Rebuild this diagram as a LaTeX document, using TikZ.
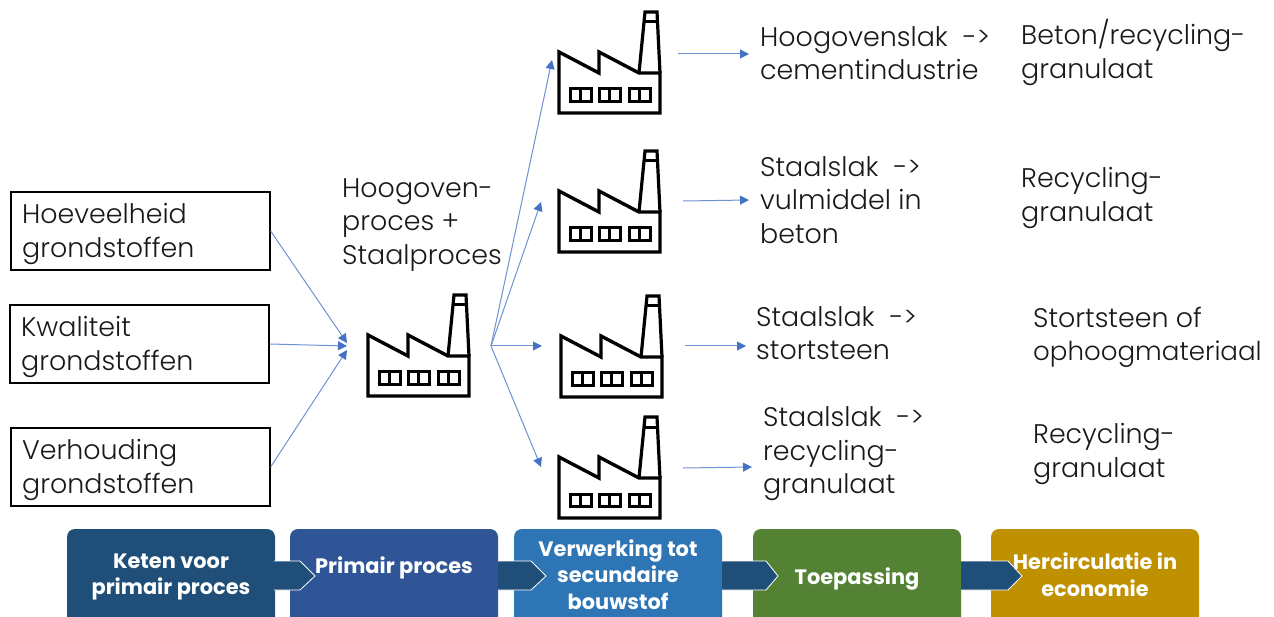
\documentclass[tikz,border=0pt]{standalone}
\usepackage{fontspec}
\setmainfont{Poppins}[UprightFont=* Light,BoldFont=* Bold]
\usetikzlibrary{arrows.meta}
\definecolor{flowblue}{HTML}{4472C4}
\definecolor{flowline}{HTML}{6F92D2}
\definecolor{chainA}{HTML}{1F4E79}
\definecolor{chainB}{HTML}{2F5597}
\definecolor{chainC}{HTML}{2E75B6}
\definecolor{chainD}{HTML}{548235}
\definecolor{chainE}{HTML}{BF9000}
\newcommand{\yields}{\kern15pt->}
\tikzset{
  inbox/.style={draw=black,line width=1.3pt,minimum width=259pt,minimum height=78pt,inner sep=0pt},
  lbl/.style={anchor=west,align=left,inner sep=0pt,font=\fontsize{26.9}{33.5}\selectfont,text=black!90},
  flow/.style={draw=flowline,line width=1pt,-{Triangle[length=9pt,width=9pt,color=flowblue]}},
  stage/.style={rounded corners=8pt,minimum width=208pt,minimum height=100pt,inner sep=0pt},
  stagetxt/.style={align=center,inner sep=0pt,text=white,font=\fontsize{20.9}{26.5}\selectfont\bfseries},
  chev/.style={fill=chainA,draw=white,line width=0.8pt,line join=miter},
  factory/.pic={
    \draw[line width=3.4pt,line join=miter,fill=white]
      (0,-61) -- (0,0) -- (101,0) -- (101,-40) -- (80,-40) -- (40,-61) -- (40,-40) -- cycle;
    \draw[line width=3.2pt,line join=miter] (80,-40) -- (86,-101) -- (98,-101) -- (101,-40);
    \draw[line width=3pt] (85,-91) -- (99,-91);
    \foreach \wx in {11,40,70}{
      \draw[line width=3pt] (\wx,-11.5) rectangle ++(21,-12.5);
      \draw[line width=2.4pt] (\wx+10.5,-11.5) -- ++(0,-12.5);
    }
  }
}
\begin{document}
\begin{tikzpicture}[x=1pt,y=-1pt]
\path[use as bounding box,fill=white] (0,0) rectangle (1274,617);
\begin{scope}
\clip (0,0) rectangle (1274,617);
% factories
\pic at (368,396) {factory};
\pic at (559,113) {factory};
\pic at (559,252) {factory};
\pic at (561,397) {factory};
\pic at (559,518) {factory};
% input boxes
\node[inbox] (boxA) at (140.5,231) {};
\node[inbox] (boxB) at (139.5,344) {};
\node[inbox] (boxC) at (140.5,467) {};
\node[lbl] (tA) at (22,234) {Hoeveelheid\\grondstoffen};
\node[lbl] (tB) at (21,347) {Kwaliteit\\grondstoffen};
\node[lbl] (tC) at (22,470) {Verhouding\\grondstoffen};
\node[lbl] (proc) at (342,225) {Hoogoven-\\proces +\\Staalproces};
% hubs and ends
\coordinate (hubin1) at (347,343);
\coordinate (hubin2) at (347,346);
\coordinate (hubin3) at (347,350);
\coordinate (hubout) at (491,346);
\coordinate (o1) at (552,60);
\coordinate (o2) at (541,202);
\coordinate (o3) at (542,346);
\coordinate (o4) at (541,467);
\coordinate (s1) at (678,54);   \coordinate (e1) at (749,54);
\coordinate (s2) at (683,201);  \coordinate (e2) at (749,200);
\coordinate (s3) at (685,346);  \coordinate (e3) at (746,346);
\coordinate (s4) at (683,468);  \coordinate (e4) at (752,467);
\draw[flow] (boxA.east) -- (hubin1);
\draw[flow] (boxB.east) -- (hubin2);
\draw[flow] (boxC.east) -- (hubin3);
\foreach \t in {o1,o2,o3,o4} \draw[flow] (hubout) -- (\t);
\foreach \a/\b in {s1/e1,s2/e2,s3/e3,s4/e4} \draw[flow] (\a) -- (\b);
% outputs
\node[lbl] (r1) at (760,53) {Hoogovenslak\yields\\cementindustrie};
\node[lbl] (r2) at (760,200) {Staalslak\yields\\vulmiddel in\\beton};
\node[lbl] (r3) at (756,333) {Staalslak\yields\\stortsteen};
\node[lbl] (r4) at (763,454) {Staalslak\yields\\recycling-\\granulaat};
\node[lbl] (u1) at (1021,52.5) {Beton/recycling-\\granulaat};
\node[lbl] (u2) at (1021,198) {Recycling-\\granulaat};
\node[lbl] (u3) at (1033,337.5) {Stortsteen of\\{\fontsize{26.1}{33.5}\selectfont ophoogmateriaal}};
\node[lbl] (u4) at (1033,454) {Recycling-\\granulaat};
% chain
\node[stage,fill=chainA] (c1) at (171,579) {};
\node[stage,fill=chainB] (c2) at (394,579) {};
\node[stage,fill=chainC] (c3) at (618,579) {};
\node[stage,fill=chainD] (c4) at (857,579) {};
\node[stage,fill=chainE] (c5) at (1095,579) {};
\node[stagetxt] at (171,577) {Keten voor\\primair proces};
\node[stagetxt] at (394,568) {Primair proces};
\node[stagetxt] at (618,574.5) {Verwerking tot\\secundaire\\bouwstof};
\node[stagetxt] at (857,579) {Toepassing};
\node[stagetxt] at (1095,574.5) {Hercirculatie in\\economie};
\draw[chev] (274,561) -- (300,561) -- (315,576) -- (300,590) -- (274,590);
\draw[chev] (498,561) -- (531,561) -- (546,576) -- (531,590) -- (498,590);
\draw[chev] (722,561) -- (766,561) -- (778,576) -- (766,590) -- (722,590);
\draw[chev] (961,561) -- (1008,561) -- (1022,576) -- (1008,590) -- (961,590);
\end{scope}
\end{tikzpicture}
\end{document}
